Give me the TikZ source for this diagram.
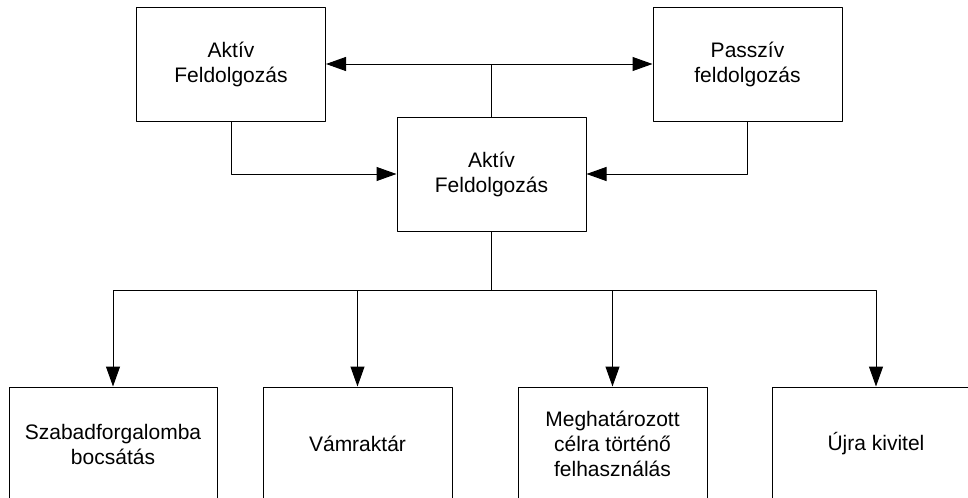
\documentclass[tikz,border=0pt]{standalone}
\usepackage{fontspec}
\setmainfont{Liberation Sans}
\usetikzlibrary{arrows.meta}

\begin{document}
\begin{tikzpicture}[x=0.75pt,y=-0.75pt,>={Triangle[length=15pt,width=10.5pt]},line width=0.75pt,
	font=\fontsize{15.75}{18.75}\selectfont, line join=round,
	doboz/.style={draw,inner sep=0pt,align=center,minimum width=141.75pt,minimum height=85.5pt},
	szeles/.style={doboz,minimum width=156pt}]
	\def\ybus{290} \def\ylow{444} % sorok
	\useasboundingbox (0,0) rectangle (968,497);
	\clip (0,0) rectangle (968,497);
	\node[doboz] (aktiv) at (231,64) {Aktív\\Feldolgozás};
	\node[doboz] (passziv) at (747.5,64) {Passzív\\feldolgozás};
	\node[doboz] (kozep) at (491.5,174) {Aktív\\Feldolgozás};
	\node[szeles] (szabad) at (113,\ylow) {Szabadforgalomba\\bocsátás};
	\node[doboz] (vam) at (357.5,\ylow) {Vámraktár};
	\node[doboz] (cel) at (612.5,\ylow) {Meghatározott\\célra történő\\felhasználás};
	\node[szeles] (ujra) at (876,\ylow) {Újra kivitel};
	\coordinate (fent) at (kozep.north |- aktiv.east);
	\coordinate (bus) at (491.5,\ybus);
	\draw (kozep.north) -- (fent);
	\draw[->] (fent) -- (aktiv.east);
	\draw[->] (fent) -- (passziv.west);
	\draw[->] (aktiv.south) |- (kozep.west);
	\draw[->] (passziv.south) |- (kozep.east);
	\draw (kozep.south) -- (bus);
	\foreach \b in {szabad,vam,cel,ujra}
		\draw[->] (bus) -| (\b.north);
\end{tikzpicture}
\end{document}
